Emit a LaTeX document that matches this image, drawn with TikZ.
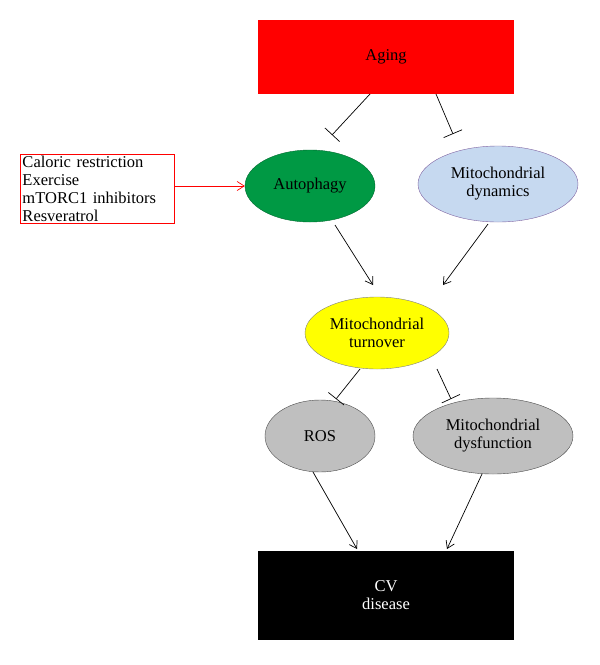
\documentclass[tikz,border=0pt]{standalone}
\usepackage{fontspec}
\setmainfont{Liberation Serif}
\usetikzlibrary{shapes.geometric,arrows.meta}
\definecolor{agered}{RGB}{255,0,0}
\definecolor{autog}{RGB}{0,153,68}
\definecolor{dynb}{RGB}{198,217,240}
\definecolor{dynbd}{RGB}{128,100,162}
\definecolor{yel}{RGB}{255,255,0}
\definecolor{gr}{RGB}{191,191,191}
\begin{document}
\begin{tikzpicture}[x=1pt,y=-1pt,
  every node/.style={font=\fontsize{16.5}{18}\selectfont,align=center},
  ell/.style={ellipse,draw,inner sep=0pt},
  act/.style={-{Straight Barb[length=7pt,width=9pt]},line width=0.7pt},
  inh/.style={-{Bar[width=20pt]},line width=0.7pt}]
\useasboundingbox (0,0) rectangle (600,665);
\node[fill=agered,minimum width=256,minimum height=74] (aging) at (386,57) {Aging};
\node[ell,fill=autog,draw=autog!70!black,minimum width=130,minimum height=72] (auto) at (310,186) {Autophagy};
\node[ell,fill=dynb,draw=dynbd,minimum width=160,minimum height=76] (dyn) at (498,184) {Mitochondrial\\dynamics};
\node[draw=agered,line width=0.8pt,align=left,text width=150,inner sep=2pt] (box) at (97.5,189) {Caloric restriction\\Exercise\\mTORC1 inhibitors\\Resveratrol};
\node[ell,fill=yel,draw=gray,minimum width=144,minimum height=72] (turn) at (377,333) {Mitochondrial\\turnover};
\node[ell,fill=gr,draw=black!70,minimum width=110,minimum height=72] (ros) at (320,436) {ROS};
\node[ell,fill=gr,draw=black!70,minimum width=160,minimum height=76] (dys) at (493,436) {Mitochondrial\\dysfunction};
\node[fill=black,text=white,minimum width=256,minimum height=89] (cv) at (386,595.5) {CV\\disease};
\coordinate (a1) at (370,94); \coordinate (b1) at (332,135);
\coordinate (a2) at (436,94); \coordinate (b2) at (453,134);
\coordinate (t1) at (360,369); \coordinate (r1) at (336,399);
\coordinate (t2) at (437,369); \coordinate (r2) at (451,399);
\coordinate (bx) at (175,186);
\draw[inh] (a1) -- (b1);
\draw[inh] (a2) -- (b2);
\draw[act] (335,225) -- (373,285);
\draw[act] (488,224) -- (443,285);
\draw[inh] (t1) -- (r1);
\draw[inh] (t2) -- (r2);
\draw[act] (313,472) -- (357,549);
\draw[act] (482,474) -- (447,549);
\draw[act,draw=agered] (bx) -- (auto.west);
\end{tikzpicture}
\end{document}
